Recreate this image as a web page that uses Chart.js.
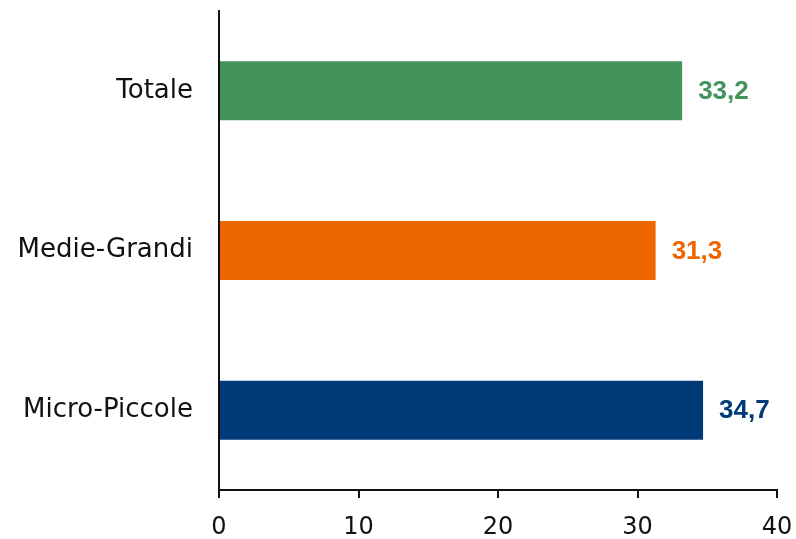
<!DOCTYPE html>
<html>
<head>
<meta charset="utf-8">
<script src="https://cdn.jsdelivr.net/npm/chart.js@4/dist/chart.umd.min.js"></script>
<style>
  html, body { margin: 0; padding: 0; background: #fff; }
  #wrap { width: 796px; height: 539px; position: relative; }
</style>
</head>
<body>
<div id="wrap"><canvas id="c"></canvas></div>
<script>
const categories = ['Totale', 'Medie-Grandi', 'Micro-Piccole'];
const values = [33.2, 31.3, 34.7];
const barColors = ['#43935C', '#EE6600', '#003A78'];
const xTicks = [0, 10, 20, 30, 40];

// Writes each bar's value (comma decimal) just past its end
const valueLabels = {
  id: 'valueLabels',
  afterDatasetsDraw(chart) {
    const ctx = chart.ctx;
    const meta = chart.getDatasetMeta(0);
    ctx.save();
    ctx.font = 'bold 26px "Liberation Sans", Arial, sans-serif';
    ctx.textBaseline = 'middle';
    ctx.textAlign = 'left';
    meta.data.forEach((bar, i) => {
      ctx.fillStyle = barColors[i];
      ctx.fillText(values[i].toFixed(1).replace('.', ','), bar.x + 16, bar.y + 1);
    });
    ctx.restore();
  }
};

new Chart(document.getElementById('c'), {
  type: 'bar',
  data: {
    labels: categories,
    datasets: [{
      data: values,
      backgroundColor: barColors,
      borderWidth: 0,
      categoryPercentage: 1,
      barPercentage: 0.37
    }]
  },
  options: {
    indexAxis: 'y',
    responsive: true,
    maintainAspectRatio: false,
    animation: false,
    layout: { padding: { top: 11, right: 19, left: 0, bottom: 0 } },
    plugins: { legend: { display: false }, tooltip: { enabled: false } },
    scales: {
      x: {
        min: 0, max: 40,
        afterBuildTicks(scale) { scale.ticks = xTicks.map(v => ({ value: v })); },
        afterFit(scale) {
          scale.height = 49;
          scale.paddingLeft = 0;
          scale.paddingRight = 0;
        },
        border: { display: true, color: '#111', width: 2 },
        grid: { drawOnChartArea: false, drawTicks: true, tickLength: 8, color: '#111', lineWidth: 2 },
        ticks: {
          color: '#111',
          padding: 15,
          font: { family: '"DejaVu Sans", sans-serif', size: 24 }
        }
      },
      y: {
        afterFit(scale) {
          scale.width = 219;
          scale.paddingTop = 0;
          scale.paddingBottom = 0;
        },
        border: { display: true, color: '#111', width: 2 },
        grid: { display: false, drawTicks: false },
        ticks: {
          color: '#111',
          padding: 26,
          font: { family: '"DejaVu Sans", sans-serif', size: 26 }
        }
      }
    }
  },
  plugins: [valueLabels]
});
</script>
</body>
</html>
